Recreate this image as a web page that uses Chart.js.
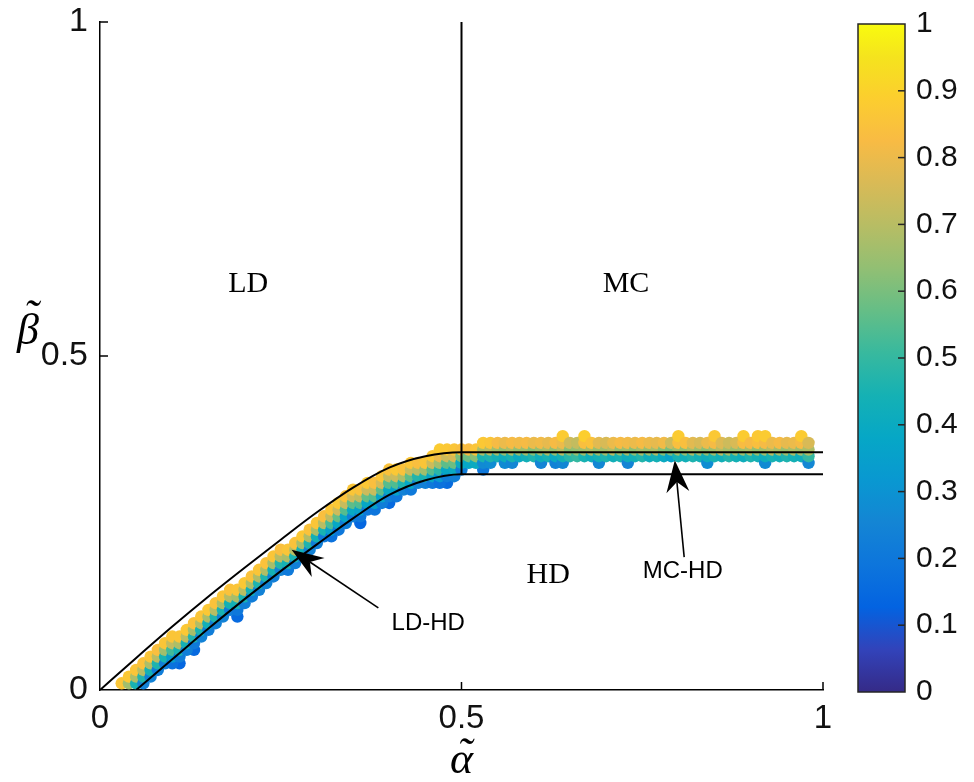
<!DOCTYPE html>
<html>
<head>
<meta charset="utf-8">
<script src="https://cdn.jsdelivr.net/npm/chart.js@4.4.0/dist/chart.umd.min.js"></script>
<style>
  html, body { margin: 0; padding: 0; background: #fff; }
  #wrap { position: relative; width: 974px; height: 782px; }
  #wrap canvas { position: absolute; top: 0; }
  #main { left: 0; }
  #cbar { left: 840px; }
</style>
</head>
<body>
<div id="wrap">
  <canvas id="main" width="974" height="782"></canvas>
  <canvas id="cbar" width="134" height="782"></canvas>
</div>
<script>
// boundary curves
const upperAlpha = [0, 0.05, 0.1, 0.15, 0.2, 0.25, 0.3, 0.35, 0.4, 0.45, 0.5, 1];
const upperBeta  = [0, 0.048, 0.095, 0.14, 0.183, 0.225, 0.266, 0.303, 0.333, 0.35, 0.356, 0.356];
const lowerAlpha = [0.05, 0.1, 0.15, 0.2, 0.25, 0.3, 0.35, 0.4, 0.45, 0.5, 1];
const lowerBeta  = [0, 0.046, 0.092, 0.136, 0.178, 0.218, 0.257, 0.292, 0.314, 0.323, 0.323];
const mcAlpha = [0.5, 0.5];
const mcBeta  = [0.323, 1];

// LD-HD band: one column per alpha, beta of lowest dot, values bottom -> top (beta step 0.01)
const ldhdAlpha = [0.03, 0.04, 0.05, 0.06, 0.07, 0.08, 0.09, 0.10, 0.11, 0.12, 0.13, 0.14, 0.15, 0.16,
  0.17, 0.18, 0.19, 0.20, 0.21, 0.22, 0.23, 0.24, 0.25, 0.26, 0.27, 0.28, 0.29, 0.30, 0.31, 0.32,
  0.33, 0.34, 0.35, 0.36, 0.37, 0.38, 0.39, 0.40, 0.41, 0.42, 0.43, 0.44, 0.45, 0.46, 0.47, 0.48, 0.49];
const ldhdBeta0 = [0.01, 0.01, 0.01, 0.01, 0.02, 0.03, 0.04, 0.04, 0.05, 0.06, 0.07, 0.08, 0.09, 0.10,
  0.11, 0.12, 0.12, 0.13, 0.14, 0.15, 0.16, 0.17, 0.18, 0.18, 0.19, 0.20, 0.21, 0.22, 0.23, 0.23,
  0.24, 0.25, 0.26, 0.26, 0.27, 0.27, 0.28, 0.29, 0.29, 0.30, 0.30, 0.31, 0.31, 0.31, 0.31, 0.32, 0.32];
const ldhdValues = [
  [0.86], [0.66, 0.87], [0.45, 0.68, 0.86], [0.25, 0.47, 0.7, 0.85], [0.24, 0.44, 0.68, 0.86],
  [0.22, 0.46, 0.7, 0.84], [0.23, 0.45, 0.66, 0.86], [0.18, 0.34, 0.52, 0.72, 0.86],
  [0.22, 0.45, 0.68, 0.86], [0.23, 0.44, 0.7, 0.87], [0.21, 0.46, 0.67, 0.85],
  [0.24, 0.45, 0.69, 0.86], [0.22, 0.43, 0.68, 0.87], [0.23, 0.46, 0.7, 0.85],
  [0.24, 0.45, 0.68, 0.86], [0.22, 0.44, 0.7, 0.85], [0.2, 0.44, 0.67, 0.86],
  [0.23, 0.45, 0.7, 0.87], [0.22, 0.43, 0.68, 0.85], [0.24, 0.46, 0.69, 0.86],
  [0.24, 0.46, 0.69, 0.85], [0.23, 0.44, 0.67, 0.86], [0.25, 0.47, 0.7, 0.84],
  [0.21, 0.44, 0.68, 0.86], [0.23, 0.45, 0.7, 0.85], [0.22, 0.43, 0.67, 0.87],
  [0.24, 0.46, 0.69, 0.85], [0.23, 0.44, 0.68, 0.86], [0.21, 0.45, 0.7, 0.84],
  [0.18, 0.35, 0.53, 0.72, 0.86], [0.2, 0.38, 0.57, 0.74, 0.87], [0.22, 0.37, 0.55, 0.73, 0.85],
  [0.23, 0.39, 0.56, 0.75, 0.86], [0.2, 0.36, 0.54, 0.72, 0.85], [0.21, 0.38, 0.57, 0.74, 0.87],
  [0.19, 0.35, 0.55, 0.73, 0.84], [0.22, 0.37, 0.56, 0.75, 0.86], [0.23, 0.39, 0.55, 0.72, 0.85],
  [0.2, 0.36, 0.54, 0.74, 0.87], [0.24, 0.46, 0.68, 0.85], [0.21, 0.38, 0.56, 0.73, 0.86],
  [0.25, 0.47, 0.7, 0.84], [0.23, 0.45, 0.66, 0.86], [0.2, 0.37, 0.55, 0.74, 0.87],
  [0.18, 0.32, 0.48, 0.66, 0.8, 0.88], [0.22, 0.38, 0.56, 0.74, 0.87], [0.23, 0.4, 0.58, 0.76, 0.86]
];

// MC-HD band
const mchdAlpha = [0.50, 0.51, 0.52, 0.53, 0.54, 0.55, 0.56, 0.57, 0.58, 0.59, 0.60, 0.61, 0.62, 0.63,
  0.64, 0.65, 0.66, 0.67, 0.68, 0.69, 0.70, 0.71, 0.72, 0.73, 0.74, 0.75, 0.76, 0.77, 0.78, 0.79,
  0.80, 0.81, 0.82, 0.83, 0.84, 0.85, 0.86, 0.87, 0.88, 0.89, 0.90, 0.91, 0.92, 0.93, 0.94, 0.95,
  0.96, 0.97, 0.98];
const mchdBeta0 = [0.33, 0.34, 0.34, 0.34, 0.34, 0.35, 0.34, 0.34, 0.35, 0.35, 0.35, 0.34, 0.35, 0.34,
  0.34, 0.35, 0.35, 0.35, 0.35, 0.34, 0.35, 0.35, 0.35, 0.34, 0.35, 0.35, 0.35, 0.35, 0.35, 0.35,
  0.35, 0.35, 0.35, 0.35, 0.34, 0.35, 0.35, 0.35, 0.35, 0.35, 0.35, 0.35, 0.34, 0.35, 0.35, 0.35,
  0.35, 0.35, 0.34];
const mchdValues = [
  [0.22, 0.4, 0.6, 0.84], [0.38, 0.58, 0.83], [0.4, 0.62, 0.86], [0.27, 0.45, 0.68, 0.87],
  [0.28, 0.46, 0.7, 0.86], [0.44, 0.66, 0.82], [0.27, 0.42, 0.64, 0.8], [0.26, 0.45, 0.68, 0.82],
  [0.4, 0.64, 0.81], [0.43, 0.66, 0.82], [0.46, 0.62, 0.8], [0.25, 0.42, 0.65, 0.81],
  [0.45, 0.68, 0.79], [0.24, 0.4, 0.64, 0.82], [0.26, 0.44, 0.7, 0.8, 0.88], [0.48, 0.62, 0.74],
  [0.5, 0.64, 0.72], [0.45, 0.66, 0.84, 0.89], [0.42, 0.68, 0.85], [0.26, 0.44, 0.65, 0.78],
  [0.46, 0.66, 0.76], [0.43, 0.7, 0.8], [0.45, 0.64, 0.82], [0.25, 0.42, 0.66, 0.81],
  [0.44, 0.63, 0.8], [0.47, 0.67, 0.82], [0.42, 0.65, 0.8], [0.44, 0.68, 0.79],
  [0.4, 0.62, 0.81], [0.36, 0.6, 0.74], [0.45, 0.66, 0.84, 0.88], [0.43, 0.64, 0.84],
  [0.46, 0.68, 0.78], [0.44, 0.65, 0.76], [0.28, 0.42, 0.63, 0.8], [0.45, 0.66, 0.82, 0.87],
  [0.43, 0.7, 0.77], [0.47, 0.67, 0.74], [0.44, 0.65, 0.76], [0.42, 0.66, 0.83, 0.88],
  [0.46, 0.68, 0.82], [0.44, 0.64, 0.84, 0.87], [0.27, 0.42, 0.66, 0.82, 0.88], [0.45, 0.7, 0.8],
  [0.43, 0.67, 0.82], [0.46, 0.65, 0.79], [0.44, 0.68, 0.8], [0.42, 0.66, 0.82, 0.88],
  [0.26, 0.5, 0.68, 0.76]
];

// stray dots below the band: [alpha, beta, value]
const strayDots = [[0.11, 0.04, 0.14], [0.13, 0.06, 0.15], [0.19, 0.11, 0.15], [0.36, 0.25, 0.14],
  [0.40, 0.28, 0.15], [0.48, 0.31, 0.16], [0.53, 0.33, 0.2]];

const cbarTicks = [0, 0.1, 0.2, 0.3, 0.4, 0.5, 0.6, 0.7, 0.8, 0.9, 1];

// annotations (data coordinates)
const regionLabels = [["LD", 0.205, 0.608], ["MC", 0.7275, 0.608], ["HD", 0.62, 0.172]];
const boundaryLabels = [["LD-HD", 0.454, 0.10], ["MC-HD", 0.806, 0.177]];
const arrows = [[0.385, 0.123, 0.265, 0.21], [0.808, 0.199, 0.795, 0.344]];

// parula colormap stops
const PARULA = [
  [0, 53, 42, 135], [0.0635, 50, 67, 186], [0.127, 3, 99, 225], [0.19, 13, 117, 220],
  [0.254, 20, 133, 212], [0.317, 9, 152, 209], [0.381, 6, 167, 198], [0.444, 21, 177, 180],
  [0.508, 56, 185, 158], [0.571, 101, 190, 134], [0.635, 146, 191, 115], [0.698, 183, 189, 100],
  [0.762, 217, 186, 86], [0.825, 248, 187, 68], [0.889, 252, 206, 46], [0.952, 245, 228, 29],
  [1, 249, 251, 14]
];

function parula(v) {
  v = Math.max(0, Math.min(1, v));
  for (let i = 1; i < PARULA.length; i++) {
    const a = PARULA[i - 1], b = PARULA[i];
    if (v <= b[0]) {
      const t = (v - a[0]) / (b[0] - a[0]);
      const c = [1, 2, 3].map(k => Math.round(a[k] + (b[k] - a[k]) * t));
      return "rgb(" + c.join(",") + ")";
    }
  }
  return "rgb(249,251,14)";
}

function toPoints(xs, ys) {
  return xs.map((x, i) => ({ x: x, y: ys[i] }));
}

const dots = strayDots.map(p => ({ x: p[0], y: p[1], v: p[2] }));
function addColumns(alphas, beta0, values) {
  alphas.forEach((a, i) => {
    values[i].forEach((v, k) => {
      dots.push({ x: a, y: +(beta0[i] + 0.01 * k).toFixed(2), v: v });
    });
  });
}
addColumns(ldhdAlpha, ldhdBeta0, ldhdValues);
addColumns(mchdAlpha, mchdBeta0, mchdValues);

const SANS = "'Liberation Sans', Arial, Helvetica, sans-serif";
const SERIF = "'Liberation Serif', 'Times New Roman', serif";
const fmt = v => String(+Number(v).toFixed(1));

function lineSet(xs, ys) {
  return {
    type: "line",
    data: toPoints(xs, ys),
    borderColor: "#000",
    borderWidth: 2,
    pointRadius: 0,
    fill: false,
    cubicInterpolationMode: "monotone",
    order: 0
  };
}

function drawArrow(ctx, x0, y0, x1, y1) {
  const ang = Math.atan2(y1 - y0, x1 - x0);
  const len = 32, half = 11.5, back = 22;
  const cos = Math.cos(ang), sin = Math.sin(ang);
  const bx = x1 - back * cos, by = y1 - back * sin;
  ctx.beginPath();
  ctx.moveTo(x0, y0);
  ctx.lineTo(bx, by);
  ctx.stroke();
  ctx.beginPath();
  ctx.moveTo(x1, y1);
  ctx.lineTo(x1 - len * cos - half * sin, y1 - len * sin + half * cos);
  ctx.lineTo(bx, by);
  ctx.lineTo(x1 - len * cos + half * sin, y1 - len * sin - half * cos);
  ctx.closePath();
  ctx.fill();
}

const overlay = {
  id: "overlay",
  afterDraw(chart) {
    const { ctx, chartArea: ca, scales: { x, y } } = chart;
    ctx.save();
    ctx.strokeStyle = "#000";
    ctx.fillStyle = "#000";
    ctx.lineWidth = 1.5;
    // inward ticks
    x.ticks.forEach(t => {
      if (t.value === 0) return;
      const px = x.getPixelForValue(t.value);
      ctx.beginPath(); ctx.moveTo(px, ca.bottom); ctx.lineTo(px, ca.bottom - 8); ctx.stroke();
    });
    y.ticks.forEach(t => {
      if (t.value === 0) return;
      const py = y.getPixelForValue(t.value);
      ctx.beginPath(); ctx.moveTo(ca.left, py); ctx.lineTo(ca.left + 8, py); ctx.stroke();
    });

    ctx.textAlign = "center";
    ctx.textBaseline = "middle";
    ctx.font = "30px " + SERIF;
    regionLabels.forEach(l => ctx.fillText(l[0], x.getPixelForValue(l[1]), y.getPixelForValue(l[2])));
    ctx.font = "24px " + SANS;
    boundaryLabels.forEach(l => ctx.fillText(l[0], x.getPixelForValue(l[1]), y.getPixelForValue(l[2])));

    ctx.lineWidth = 1.6;
    arrows.forEach(a => drawArrow(ctx, x.getPixelForValue(a[0]), y.getPixelForValue(a[1]),
      x.getPixelForValue(a[2]), y.getPixelForValue(a[3])));

    // axis labels
    ctx.textBaseline = "alphabetic";
    ctx.font = "italic 44px " + SERIF;
    const ax = (ca.left + ca.right) / 2;
    ctx.fillText("α", ax, 773);
    ctx.fillText("˜", ax + 3, 768);
    ctx.fillText("β", 28, 344);
    ctx.fillText("˜", 31, 330);
    ctx.restore();
  }
};

new Chart(document.getElementById("main"), {
  type: "scatter",
  data: {
    datasets: [
      lineSet(upperAlpha, upperBeta),
      lineSet(lowerAlpha, lowerBeta),
      lineSet(mcAlpha, mcBeta),
      {
        type: "scatter",
        data: dots,
        pointRadius: 6.2,
        pointHoverRadius: 6.2,
        pointBorderWidth: 0,
        pointBackgroundColor: ctx => parula(ctx.raw ? ctx.raw.v : 0),
        order: 1
      }
    ]
  },
  options: {
    responsive: false,
    animation: false,
    events: [],
    layout: { padding: { left: 0, right: 151, top: 22, bottom: 0 } },
    plugins: { legend: { display: false }, tooltip: { enabled: false } },
    scales: {
      x: {
        type: "linear", min: 0, max: 1,
        grid: { display: false, drawTicks: false },
        border: { color: "#000", width: 1.5 },
        ticks: { stepSize: 0.5, color: "#111", padding: 9, maxRotation: 0, callback: fmt,
                 font: { family: SANS, size: 33 } },
        afterFit: s => { s.height = 92; s.paddingLeft = 0; s.paddingRight = 0; }
      },
      y: {
        type: "linear", min: 0, max: 1,
        grid: { display: false, drawTicks: false },
        border: { color: "#000", width: 1.5 },
        ticks: { stepSize: 0.5, color: "#111", padding: 12, callback: fmt,
                 font: { family: SANS, size: 34 } },
        afterFit: s => { s.width = 100; s.paddingTop = 0; s.paddingBottom = 0; }
      }
    }
  },
  plugins: [overlay]
});

// colour bar
const cbarFrame = {
  id: "cbarFrame",
  afterDraw(chart) {
    const { ctx, chartArea: ca, scales: { y } } = chart;
    ctx.save();
    ctx.strokeStyle = "#262626";
    ctx.lineWidth = 1.5;
    ctx.strokeRect(ca.left, ca.top, ca.right - ca.left, ca.bottom - ca.top);
    cbarTicks.forEach(v => {
      if (v === 0 || v === 1) return;
      const py = y.getPixelForValue(v);
      ctx.beginPath(); ctx.moveTo(ca.right - 7, py); ctx.lineTo(ca.right, py); ctx.stroke();
    });
    ctx.restore();
  }
};

new Chart(document.getElementById("cbar"), {
  type: "bar",
  data: {
    labels: [""],
    datasets: [{
      data: [[0, 1]],
      barPercentage: 1,
      categoryPercentage: 1,
      borderWidth: 0,
      backgroundColor: ctx => {
        const ca = ctx.chart.chartArea;
        if (!ca) return "#888";
        const g = ctx.chart.ctx.createLinearGradient(0, ca.bottom, 0, ca.top);
        PARULA.forEach(s => g.addColorStop(s[0], "rgb(" + s[1] + "," + s[2] + "," + s[3] + ")"));
        return g;
      }
    }]
  },
  options: {
    responsive: false,
    animation: false,
    events: [],
    layout: { padding: { left: 18, top: 24, bottom: 90, right: 0 } },
    plugins: { legend: { display: false }, tooltip: { enabled: false } },
    scales: {
      x: { display: false },
      y: {
        position: "right", min: 0, max: 1,
        grid: { display: false, drawTicks: false },
        border: { display: false },
        ticks: { stepSize: 0.1, padding: 11, color: "#111", callback: fmt, font: { family: SANS, size: 30 } },
        afterFit: s => { s.width = 69; s.paddingTop = 0; s.paddingBottom = 0; }
      }
    }
  },
  plugins: [cbarFrame]
});
</script>
</body>
</html>
